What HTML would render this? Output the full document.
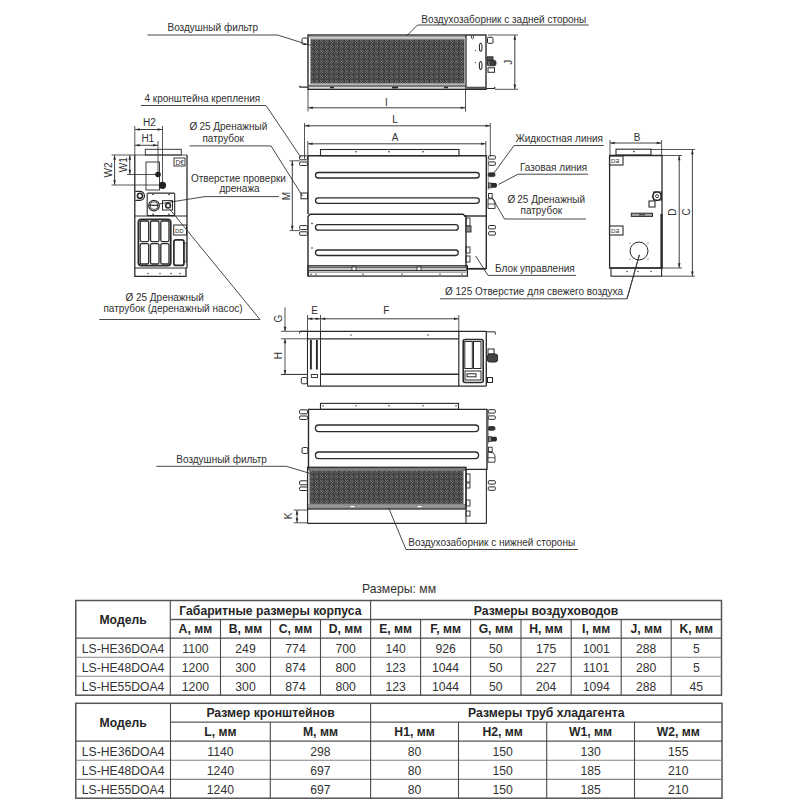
<!DOCTYPE html>
<html><head><meta charset="utf-8"><style>
html,body{margin:0;padding:0;background:#fff;}
svg{display:block;font-family:"Liberation Sans",sans-serif;}
</style></head><body>
<svg width="800" height="800" viewBox="0 0 800 800" font-size="12.2">
<defs>
<pattern id="mesh" width="5" height="5" patternUnits="userSpaceOnUse">
<rect width="5" height="5" fill="#444"/>
<rect x="0" y="0" width="1" height="1" fill="#777"/>
<rect x="2" y="0" width="1" height="1" fill="#666"/>
<rect x="4" y="0" width="1" height="1" fill="#333"/>
<rect x="1" y="1" width="1" height="1" fill="#7a7a7a"/>
<rect x="3" y="1" width="1" height="1" fill="#5a5a5a"/>
<rect x="0" y="2" width="1" height="1" fill="#666"/>
<rect x="1" y="2" width="1" height="1" fill="#333"/>
<rect x="2" y="2" width="1" height="1" fill="#777"/>
<rect x="4" y="3" width="1" height="1" fill="#5a5a5a"/>
<rect x="1" y="3" width="1" height="1" fill="#666"/>
<rect x="3" y="3" width="1" height="1" fill="#333"/>
</pattern>
</defs>
<rect width="800" height="800" fill="#fff"/>
<text x="167.5" y="31" font-size="10" text-anchor="start" fill="#303030">Воздушный фильтр</text>
<polyline points="147.5,35 277.5,35 314,46.5" stroke="#333" stroke-width="0.9" fill="none"/>
<text x="421.3" y="22.5" font-size="10" text-anchor="start" fill="#303030">Воздухозаборник с задней стороны</text>
<polyline points="588.8,25 417.5,25 406,36.5" stroke="#333" stroke-width="0.9" fill="none"/>
<rect x="308.5" y="84.7" width="157.5" height="2.6" rx="0" stroke="#2a2a2a" stroke-width="0" fill="#7a7a7a"/>
<rect x="311" y="39.3" width="153" height="44.2" rx="0" stroke="#2a2a2a" stroke-width="0" fill="url(#mesh)"/>
<rect x="310.5" y="38.8" width="154" height="45.2" rx="0" stroke="#888" stroke-width="0.8" fill="none"/>
<line x1="309" y1="36.8" x2="466" y2="36.8" stroke="#9a9a9a" stroke-width="1.6"/>
<rect x="308" y="35" width="178" height="54.3" rx="0" stroke="#2a2a2a" stroke-width="1.4" fill="none"/>
<line x1="466" y1="35" x2="466" y2="89.3" stroke="#2a2a2a" stroke-width="1.3"/>
<line x1="330" y1="87.5" x2="334" y2="87.5" stroke="#2a2a2a" stroke-width="1.5"/>
<line x1="392" y1="87.5" x2="398" y2="87.5" stroke="#2a2a2a" stroke-width="1.8"/>
<line x1="444" y1="87.5" x2="448" y2="87.5" stroke="#2a2a2a" stroke-width="1.5"/>
<path d="M471.4,35.5 L471.4,38 Q472.4,39.6 473.4,38 L473.4,35.5" stroke="#2a2a2a" stroke-width="0.9" fill="none"/>
<ellipse cx="480.7" cy="47.2" rx="1.3" ry="4" stroke="#2a2a2a" stroke-width="1.1" fill="none"/>
<ellipse cx="480.7" cy="65.5" rx="1.3" ry="4" stroke="#2a2a2a" stroke-width="1.1" fill="none"/>
<circle cx="475.4" cy="50.3" r="0.6" fill="#2a2a2a"/>
<circle cx="475.4" cy="62.5" r="0.6" fill="#2a2a2a"/>
<line x1="466.5" y1="87.8" x2="486" y2="87.8" stroke="#555" stroke-width="2.2"/>
<rect x="302" y="38" width="6" height="6.5" rx="1.5" stroke="#2a2a2a" stroke-width="1.0" fill="none"/>
<polyline points="308,87.2 300,87.2 299.5,85.8" stroke="#2a2a2a" stroke-width="1.2" fill="none"/>
<rect x="487.5" y="37.3" width="5.5" height="6" rx="1" stroke="#2a2a2a" stroke-width="1.0" fill="none"/>
<rect x="487" y="56.8" width="6" height="3.5" rx="0" stroke="#2a2a2a" stroke-width="0.9" fill="#555"/>
<rect x="487" y="60.3" width="9" height="5.5" rx="2" stroke="#2a2a2a" stroke-width="0.9" fill="#3a3a3a"/>
<line x1="489" y1="61" x2="489" y2="65.5" stroke="#ccc" stroke-width="0.6"/>
<rect x="488" y="67.8" width="6.5" height="4.5" rx="0" stroke="#2a2a2a" stroke-width="1.0" fill="none"/>
<polyline points="486,88.5 494.5,88.5 495,87" stroke="#2a2a2a" stroke-width="1.2" fill="none"/>
<line x1="488" y1="35" x2="518" y2="35" stroke="#2a2a2a" stroke-width="0.8"/>
<line x1="495" y1="89.3" x2="518" y2="89.3" stroke="#2a2a2a" stroke-width="0.8"/>
<line x1="514.8" y1="35.3" x2="514.8" y2="89" stroke="#2a2a2a" stroke-width="0.9"/>
<polygon points="514.8,35.3 516.10,39.80 513.50,39.80" fill="#2a2a2a"/>
<polygon points="514.8,89 513.50,84.50 516.10,84.50" fill="#2a2a2a"/>
<text x="512" y="62.3" font-size="10" text-anchor="middle" fill="#303030" transform="rotate(-90 512 62.3)">J</text>
<line x1="308" y1="89" x2="308" y2="111.5" stroke="#2a2a2a" stroke-width="0.8"/>
<line x1="465.5" y1="89" x2="465.5" y2="111.5" stroke="#2a2a2a" stroke-width="0.8"/>
<line x1="308.3" y1="107.8" x2="465.2" y2="107.8" stroke="#2a2a2a" stroke-width="0.9"/>
<polygon points="308.3,107.8 312.80,106.50 312.80,109.10" fill="#2a2a2a"/>
<polygon points="465.2,107.8 460.70,109.10 460.70,106.50" fill="#2a2a2a"/>
<text x="386.5" y="105.6" font-size="10" text-anchor="middle" fill="#303030">I</text>
<text x="144.5" y="101.6" font-size="10" text-anchor="start" fill="#303030">4 кронштейна крепления</text>
<polyline points="141,105.5 266,105.5 301,157.5" stroke="#333" stroke-width="0.9" fill="none"/>
<text x="189.6" y="130.1" font-size="10" text-anchor="start" fill="#303030">Ø<tspan dx="2">25 Дренажный</tspan></text>
<text x="202.4" y="142.3" font-size="10" text-anchor="start" fill="#303030">патрубок</text>
<polyline points="189.6,145.9 271,145.9 302.5,196" stroke="#333" stroke-width="0.9" fill="none"/>
<text x="190.9" y="182.1" font-size="10" text-anchor="start" fill="#303030">Отверстие проверки</text>
<text x="219.4" y="191.6" font-size="10" text-anchor="start" fill="#303030">дренажа</text>
<polyline points="279,196.6 205,196.6 159.5,203.8" stroke="#333" stroke-width="0.9" fill="none"/>
<line x1="304.5" y1="123" x2="304.5" y2="159" stroke="#2a2a2a" stroke-width="0.8"/>
<line x1="490.3" y1="123" x2="490.3" y2="156.5" stroke="#2a2a2a" stroke-width="0.8"/>
<line x1="304.8" y1="125.8" x2="490" y2="125.8" stroke="#2a2a2a" stroke-width="0.9"/>
<polygon points="304.8,125.8 309.30,124.50 309.30,127.10" fill="#2a2a2a"/>
<polygon points="490,125.8 485.50,127.10 485.50,124.50" fill="#2a2a2a"/>
<text x="395" y="122.5" font-size="10" text-anchor="middle" fill="#303030">L</text>
<line x1="307.8" y1="141" x2="307.8" y2="155" stroke="#2a2a2a" stroke-width="0.8"/>
<line x1="485.8" y1="141" x2="485.8" y2="155" stroke="#2a2a2a" stroke-width="0.8"/>
<line x1="308.1" y1="143.8" x2="485.5" y2="143.8" stroke="#2a2a2a" stroke-width="0.9"/>
<polygon points="308.1,143.8 312.60,142.50 312.60,145.10" fill="#2a2a2a"/>
<polygon points="485.5,143.8 481.00,145.10 481.00,142.50" fill="#2a2a2a"/>
<text x="395" y="140.8" font-size="10" text-anchor="middle" fill="#303030">A</text>
<line x1="289.5" y1="160.8" x2="300" y2="160.8" stroke="#2a2a2a" stroke-width="0.8"/>
<line x1="289.5" y1="230.6" x2="300" y2="230.6" stroke="#2a2a2a" stroke-width="0.8"/>
<line x1="292.3" y1="161.1" x2="292.3" y2="230.3" stroke="#2a2a2a" stroke-width="0.9"/>
<polygon points="292.3,161.1 293.60,165.60 291.00,165.60" fill="#2a2a2a"/>
<polygon points="292.3,230.3 291.00,225.80 293.60,225.80" fill="#2a2a2a"/>
<text x="290" y="196" font-size="10" text-anchor="middle" fill="#303030" transform="rotate(-90 290 196)">M</text>
<rect x="320.5" y="149.5" width="138.5" height="6.2" rx="0" stroke="#2a2a2a" stroke-width="1.1" fill="none"/>
<circle cx="356" cy="151.8" r="0.8" fill="#2a2a2a"/>
<circle cx="389" cy="151.8" r="0.8" fill="#2a2a2a"/>
<circle cx="423" cy="151.8" r="0.8" fill="#2a2a2a"/>
<polyline points="308,214.3 308,155.7 486.3,155.7 486.3,269" stroke="#2a2a2a" stroke-width="1.4" fill="none"/>
<line x1="464" y1="216" x2="486.3" y2="216" stroke="#2a2a2a" stroke-width="1.4"/>
<rect x="315.5" y="172.5" width="163.8" height="5.5" rx="2.75" stroke="#2a2a2a" stroke-width="1.3" fill="none"/>
<rect x="315.5" y="197.8" width="163.8" height="5.5" rx="2.75" stroke="#2a2a2a" stroke-width="1.3" fill="none"/>
<path d="M308,276 L308,216.5 L310,214.3 L463,214.3 L465,216 L466,216 L466,268" stroke="#2a2a2a" stroke-width="1.4" fill="none"/>
<rect x="315.5" y="224.7" width="142.8" height="5.5" rx="2.75" stroke="#2a2a2a" stroke-width="1.3" fill="none"/>
<rect x="315.5" y="250" width="142.8" height="5.5" rx="2.75" stroke="#2a2a2a" stroke-width="1.3" fill="none"/>
<circle cx="312" cy="223.5" r="0.8" fill="#2a2a2a"/>
<circle cx="312" cy="248" r="0.8" fill="#2a2a2a"/>
<rect x="309" y="267.3" width="157.5" height="3.3" rx="0" stroke="#2a2a2a" stroke-width="0" fill="#c8c8c8"/>
<line x1="309" y1="267.3" x2="466.5" y2="267.3" stroke="#444" stroke-width="1.0"/>
<line x1="309" y1="270.6" x2="466.5" y2="270.6" stroke="#333" stroke-width="1.3"/>
<line x1="309" y1="272.4" x2="466.5" y2="272.4" stroke="#777" stroke-width="0.7"/>
<rect x="308" y="265.8" width="159.4" height="10.3" rx="0" stroke="#2a2a2a" stroke-width="1.3" fill="none"/>
<rect x="352" y="267" width="4" height="3.5" rx="0" stroke="#2a2a2a" stroke-width="0.9" fill="#fff"/>
<rect x="417" y="267" width="4" height="3.5" rx="0" stroke="#2a2a2a" stroke-width="0.9" fill="#fff"/>
<circle cx="311" cy="274.3" r="0.7" fill="#2a2a2a"/>
<circle cx="316" cy="274.3" r="0.7" fill="#2a2a2a"/>
<circle cx="363" cy="274.3" r="0.7" fill="#2a2a2a"/>
<circle cx="402" cy="274.3" r="0.7" fill="#2a2a2a"/>
<circle cx="440" cy="274.3" r="0.7" fill="#2a2a2a"/>
<circle cx="462" cy="274.3" r="0.7" fill="#2a2a2a"/>
<rect x="466" y="218" width="4" height="8" rx="0" stroke="#2a2a2a" stroke-width="0.9" fill="none"/>
<rect x="466" y="226" width="5" height="6" rx="0" stroke="#2a2a2a" stroke-width="0.9" fill="#888"/>
<rect x="466" y="247" width="4" height="6" rx="0" stroke="#2a2a2a" stroke-width="0.9" fill="none"/>
<rect x="466" y="256" width="4" height="6" rx="0" stroke="#2a2a2a" stroke-width="0.9" fill="none"/>
<line x1="466" y1="268.8" x2="486.3" y2="268.8" stroke="#2a2a2a" stroke-width="1.8"/>
<rect x="299.6" y="155.8" width="7.8" height="4" rx="1" stroke="#2a2a2a" stroke-width="1.0" fill="none"/>
<rect x="299.6" y="162.0" width="7.8" height="3.5" rx="1" stroke="#2a2a2a" stroke-width="1.0" fill="none"/>
<rect x="488.6" y="155.7" width="6.8" height="3.4" rx="0.8" stroke="#2a2a2a" stroke-width="1.0" fill="none"/>
<rect x="488.6" y="161.9" width="6.8" height="3.4" rx="0.8" stroke="#2a2a2a" stroke-width="1.0" fill="none"/>
<rect x="299.6" y="225.60000000000002" width="7.8" height="4" rx="1" stroke="#2a2a2a" stroke-width="1.0" fill="none"/>
<rect x="299.6" y="231.8" width="7.8" height="3.5" rx="1" stroke="#2a2a2a" stroke-width="1.0" fill="none"/>
<rect x="488.6" y="225.5" width="6.8" height="3.4" rx="0.8" stroke="#2a2a2a" stroke-width="1.0" fill="none"/>
<rect x="488.6" y="231.70000000000002" width="6.8" height="3.4" rx="0.8" stroke="#2a2a2a" stroke-width="1.0" fill="none"/>
<rect x="301" y="193" width="6.5" height="5.8" rx="0" stroke="#2a2a2a" stroke-width="1.0" fill="none"/>
<line x1="488.2" y1="156" x2="488.2" y2="190" stroke="#555" stroke-width="0.7"/>
<rect x="488.2" y="172.8" width="6.8" height="3.8" rx="1.5" stroke="#2a2a2a" stroke-width="0.8" fill="#333"/>
<rect x="488.5" y="183" width="3" height="4.8" rx="0" stroke="#2a2a2a" stroke-width="0.8" fill="#888"/>
<path d="M491.5,183 L496,183 Q498.2,185.4 496,187.8 L491.5,187.8 Z" fill="#2a2a2a"/>
<rect x="488.5" y="193.5" width="3.7" height="4.5" rx="0" stroke="#2a2a2a" stroke-width="0.9" fill="none"/>
<path d="M488.8,198.8 L493,198.8 L495,202 L495,208.5 L488,208.5 L488,199 Z" stroke="#2a2a2a" stroke-width="0.9" fill="none"/>
<line x1="488" y1="204" x2="495" y2="204" stroke="#2a2a2a" stroke-width="0.8"/>
<text x="515.5" y="142" font-size="10" text-anchor="start" fill="#303030">Жидкостная линия</text>
<polyline points="603.8,145.5 514,145.5 494,173" stroke="#333" stroke-width="0.9" fill="none"/>
<text x="520" y="171.3" font-size="10" text-anchor="start" fill="#303030">Газовая линия</text>
<polyline points="588,174.2 518,174.2 498.5,184.5" stroke="#333" stroke-width="0.9" fill="none"/>
<text x="507.5" y="203.3" font-size="10" text-anchor="start" fill="#303030">Ø<tspan dx="2">25 Дренажный</tspan></text>
<text x="520.5" y="213.5" font-size="10" text-anchor="start" fill="#303030">патрубок</text>
<polyline points="586,219 504.5,219 492,197.5" stroke="#333" stroke-width="0.9" fill="none"/>
<text x="495" y="271.8" font-size="10" text-anchor="start" fill="#303030">Блок управления</text>
<polyline points="576,275.4 488,275.4 475.7,256" stroke="#333" stroke-width="0.9" fill="none"/>
<text x="445" y="294.6" font-size="10" text-anchor="start" fill="#303030">Ø 125 Отверстие для свежего воздуха</text>
<polyline points="440,298.8 627,298.8 639.4,254.8" stroke="#333" stroke-width="0.9" fill="none"/>
<line x1="134.8" y1="126" x2="134.8" y2="155" stroke="#2a2a2a" stroke-width="0.8"/>
<line x1="162.5" y1="126" x2="162.5" y2="185" stroke="#2a2a2a" stroke-width="0.8"/>
<line x1="158" y1="141" x2="158" y2="175" stroke="#2a2a2a" stroke-width="0.8"/>
<line x1="135.1" y1="129.5" x2="162.2" y2="129.5" stroke="#2a2a2a" stroke-width="0.9"/>
<polygon points="135.1,129.5 139.60,128.20 139.60,130.80" fill="#2a2a2a"/>
<polygon points="162.2,129.5 157.70,130.80 157.70,128.20" fill="#2a2a2a"/>
<line x1="135.1" y1="145.3" x2="157.7" y2="145.3" stroke="#2a2a2a" stroke-width="0.9"/>
<polygon points="135.1,145.3 139.60,144.00 139.60,146.60" fill="#2a2a2a"/>
<polygon points="157.7,145.3 153.20,146.60 153.20,144.00" fill="#2a2a2a"/>
<text x="149.5" y="126" font-size="10" text-anchor="middle" fill="#303030">H2</text>
<text x="147.8" y="141.6" font-size="10" text-anchor="middle" fill="#303030">H1</text>
<line x1="111.5" y1="155" x2="187" y2="155" stroke="#2a2a2a" stroke-width="0.8"/>
<line x1="111.5" y1="185" x2="162.5" y2="185" stroke="#2a2a2a" stroke-width="0.8"/>
<line x1="127" y1="174.5" x2="158" y2="174.5" stroke="#2a2a2a" stroke-width="0.8"/>
<line x1="114.6" y1="155.3" x2="114.6" y2="184.7" stroke="#2a2a2a" stroke-width="0.9"/>
<polygon points="114.6,155.3 115.90,159.80 113.30,159.80" fill="#2a2a2a"/>
<polygon points="114.6,184.7 113.30,180.20 115.90,180.20" fill="#2a2a2a"/>
<line x1="129.8" y1="155.3" x2="129.8" y2="174.2" stroke="#2a2a2a" stroke-width="0.9"/>
<polygon points="129.8,155.3 131.10,159.80 128.50,159.80" fill="#2a2a2a"/>
<polygon points="129.8,174.2 128.50,169.70 131.10,169.70" fill="#2a2a2a"/>
<text x="111.5" y="170" font-size="10" text-anchor="middle" fill="#303030" transform="rotate(-90 111.5 170)">W2</text>
<text x="127.2" y="164.7" font-size="10" text-anchor="middle" fill="#303030" transform="rotate(-90 127.2 164.7)">W1</text>
<rect x="145.3" y="149.3" width="36" height="5.7" rx="0" stroke="#2a2a2a" stroke-width="0.9" fill="none"/>
<polyline points="134.8,155 134.8,276.3 186,276.3 186,268" stroke="#2a2a2a" stroke-width="1.3" fill="none"/>
<line x1="187" y1="155" x2="187" y2="268" stroke="#2a2a2a" stroke-width="1.3"/>
<line x1="134.8" y1="268" x2="187" y2="268" stroke="#2a2a2a" stroke-width="1.0"/>
<rect x="146" y="162" width="13.5" height="28" rx="0" stroke="#2a2a2a" stroke-width="0.9" fill="none"/>
<circle cx="158" cy="174.5" r="2.8" stroke="#2a2a2a" stroke-width="0" fill="#222"/>
<circle cx="162.5" cy="185.3" r="3.6" stroke="#2a2a2a" stroke-width="0" fill="#222"/>
<rect x="174" y="158" width="11" height="8" rx="0" stroke="#2a2a2a" stroke-width="0.9" fill="none"/>
<text x="175.5" y="164.8" font-size="6.5" fill="#333">D€</text>
<path d="M135.3,191.3 L140,191.3 A4.5,4.5 0 0 1 140,200.3 L135.3,200.3" stroke="#2a2a2a" stroke-width="1.2" fill="none"/>
<circle cx="140" cy="195.8" r="2.6" stroke="#2a2a2a" stroke-width="1.6" fill="none"/>
<rect x="147.2" y="193.1" width="27.5" height="22.5" rx="1" stroke="#2a2a2a" stroke-width="1.1" fill="none"/>
<circle cx="154" cy="205.6" r="5.3" stroke="#2a2a2a" stroke-width="1.3" fill="none"/>
<circle cx="154" cy="205.6" r="3.9" stroke="#2a2a2a" stroke-width="0.8" fill="none"/>
<line x1="149.5" y1="205.3" x2="158.5" y2="205.3" stroke="#2a2a2a" stroke-width="1.2"/>
<rect x="162.5" y="200.6" width="10" height="9.4" rx="0" stroke="#2a2a2a" stroke-width="1.0" fill="none"/>
<circle cx="168.1" cy="205.6" r="2.4" stroke="#2a2a2a" stroke-width="1.6" fill="none"/>
<circle cx="153" cy="194.5" r="0.8" fill="#2a2a2a"/>
<circle cx="169" cy="194.5" r="0.8" fill="#2a2a2a"/>
<circle cx="153" cy="214.2" r="0.8" fill="#2a2a2a"/>
<circle cx="169" cy="214.2" r="0.8" fill="#2a2a2a"/>
<line x1="134.8" y1="216" x2="187" y2="216" stroke="#2a2a2a" stroke-width="1.1"/>
<rect x="138.4" y="219.3" width="32.3" height="46.3" rx="3" stroke="#2a2a2a" stroke-width="1.8" fill="none"/>
<rect x="140.2" y="221.0" width="8.500000000000018" height="20.599999999999984" rx="1.5" stroke="#2a2a2a" stroke-width="1.3" fill="none"/>
<rect x="140.2" y="243.6" width="8.500000000000018" height="20.400000000000023" rx="1.5" stroke="#2a2a2a" stroke-width="1.3" fill="none"/>
<rect x="150.5" y="221.0" width="8.49999999999999" height="20.599999999999984" rx="1.5" stroke="#2a2a2a" stroke-width="1.3" fill="none"/>
<rect x="150.5" y="243.6" width="8.49999999999999" height="20.400000000000023" rx="1.5" stroke="#2a2a2a" stroke-width="1.3" fill="none"/>
<rect x="160.79999999999998" y="221.0" width="8.200000000000006" height="20.599999999999984" rx="1.5" stroke="#2a2a2a" stroke-width="1.3" fill="none"/>
<rect x="160.79999999999998" y="243.6" width="8.200000000000006" height="20.400000000000023" rx="1.5" stroke="#2a2a2a" stroke-width="1.3" fill="none"/>
<rect x="173.7" y="225" width="12.8" height="10" rx="0" stroke="#2a2a2a" stroke-width="1.0" fill="none"/>
<text x="175" y="232.6" font-size="6" fill="#333">DD</text>
<rect x="173.9" y="239.8" width="10" height="25.6" rx="2" stroke="#2a2a2a" stroke-width="1.7" fill="none"/>
<rect x="183.9" y="243" width="2.3" height="19" rx="0" stroke="#2a2a2a" stroke-width="0.8" fill="none"/>
<circle cx="148" cy="273.5" r="0.7" fill="#2a2a2a"/>
<circle cx="160" cy="273.5" r="0.7" fill="#2a2a2a"/>
<circle cx="171" cy="273.5" r="0.7" fill="#2a2a2a"/>
<circle cx="180" cy="273.5" r="0.7" fill="#2a2a2a"/>
<text x="125.4" y="300.8" font-size="10" text-anchor="start" fill="#303030">Ø 25 Дренажный</text>
<text x="103.4" y="312.3" font-size="10" text-anchor="start" fill="#303030">патрубок (деренажный насос)</text>
<polyline points="99.3,319.5 260,319.5 170,209.5" stroke="#333" stroke-width="0.9" fill="none"/>
<line x1="610.2" y1="143" x2="661.2" y2="143" stroke="#2a2a2a" stroke-width="0.9"/>
<polygon points="610.2,143 614.70,141.70 614.70,144.30" fill="#2a2a2a"/>
<polygon points="661.2,143 656.70,144.30 656.70,141.70" fill="#2a2a2a"/>
<text x="637" y="141.3" font-size="10" text-anchor="middle" fill="#303030">B</text>
<line x1="610" y1="140" x2="610" y2="155" stroke="#2a2a2a" stroke-width="0.8"/>
<line x1="661.6" y1="140" x2="661.6" y2="155" stroke="#2a2a2a" stroke-width="0.8"/>
<rect x="616" y="149.2" width="35" height="5.8" rx="0" stroke="#2a2a2a" stroke-width="1.1" fill="none"/>
<circle cx="634" cy="151.6" r="0.8" fill="#2a2a2a"/>
<line x1="651" y1="149.5" x2="695" y2="149.5" stroke="#2a2a2a" stroke-width="0.8"/>
<line x1="662" y1="155.5" x2="682" y2="155.5" stroke="#2a2a2a" stroke-width="0.8"/>
<line x1="662" y1="268" x2="682" y2="268" stroke="#2a2a2a" stroke-width="0.8"/>
<line x1="662" y1="276.2" x2="695" y2="276.2" stroke="#2a2a2a" stroke-width="0.8"/>
<line x1="679.2" y1="155.8" x2="679.2" y2="267.7" stroke="#2a2a2a" stroke-width="0.9"/>
<polygon points="679.2,155.8 680.50,160.30 677.90,160.30" fill="#2a2a2a"/>
<polygon points="679.2,267.7 677.90,263.20 680.50,263.20" fill="#2a2a2a"/>
<line x1="692.4" y1="149.8" x2="692.4" y2="275.9" stroke="#2a2a2a" stroke-width="0.9"/>
<polygon points="692.4,149.8 693.70,154.30 691.10,154.30" fill="#2a2a2a"/>
<polygon points="692.4,275.9 691.10,271.40 693.70,271.40" fill="#2a2a2a"/>
<text x="676.3" y="212" font-size="10" text-anchor="middle" fill="#303030" transform="rotate(-90 676.3 212)">D</text>
<text x="690.2" y="212" font-size="10" text-anchor="middle" fill="#303030" transform="rotate(-90 690.2 212)">C</text>
<polyline points="609.6,155.5 609.6,268 662,268 662,155.5 609.6,155.5" stroke="#2a2a2a" stroke-width="1.3" fill="none"/>
<line x1="661.5" y1="214" x2="661.5" y2="268" stroke="#2a2a2a" stroke-width="2.2"/>
<rect x="653.5" y="192" width="8" height="8" rx="0" stroke="#2a2a2a" stroke-width="1.0" fill="none"/>
<rect x="611" y="268" width="50.6" height="8.2" rx="0" stroke="#2a2a2a" stroke-width="1.1" fill="none"/>
<circle cx="627" cy="271.5" r="0.7" fill="#2a2a2a"/>
<circle cx="638" cy="271.5" r="0.7" fill="#2a2a2a"/>
<circle cx="651" cy="271.5" r="0.7" fill="#2a2a2a"/>
<rect x="609.5" y="156" width="13.5" height="9" rx="0" stroke="#2a2a2a" stroke-width="1.1" fill="none"/>
<text x="611" y="163.3" font-size="6" fill="#333">DƎ</text>
<rect x="609.5" y="226" width="13.5" height="9" rx="0" stroke="#2a2a2a" stroke-width="1.1" fill="none"/>
<text x="611" y="233.3" font-size="6" fill="#333">DƎ</text>
<circle cx="657" cy="196.2" r="4.2" stroke="#2a2a2a" stroke-width="1.7" fill="#fff"/>
<circle cx="657" cy="196.2" r="1.5" stroke="#2a2a2a" stroke-width="0.9" fill="none"/>
<rect x="649" y="201" width="6" height="6" rx="0" stroke="#2a2a2a" stroke-width="1.1" fill="none"/>
<rect x="631.3" y="213.2" width="21.2" height="3.2" rx="0" stroke="#2a2a2a" stroke-width="1.0" fill="#aaa"/>
<line x1="639" y1="214.8" x2="645" y2="214.8" stroke="#2a2a2a" stroke-width="1.0"/>
<circle cx="639" cy="251" r="9" stroke="#2a2a2a" stroke-width="1.0" fill="none"/>
<circle cx="630" cy="243" r="0.6" fill="#2a2a2a"/>
<circle cx="648" cy="243" r="0.6" fill="#2a2a2a"/>
<circle cx="630" cy="259" r="0.6" fill="#2a2a2a"/>
<circle cx="648" cy="259" r="0.6" fill="#2a2a2a"/>
<polyline points="639.4,254.8 627,298.8" stroke="#333" stroke-width="0.9" fill="none"/>
<line x1="285" y1="307.5" x2="285" y2="331" stroke="#2a2a2a" stroke-width="0.8"/>
<polygon points="285,331.2 283.70,326.70 286.30,326.70" fill="#2a2a2a"/>
<line x1="285" y1="338.8" x2="285" y2="374.5" stroke="#2a2a2a" stroke-width="0.8"/>
<polygon points="285,338.8 286.30,343.30 283.70,343.30" fill="#2a2a2a"/>
<polygon points="285,374.5 283.70,370.00 286.30,370.00" fill="#2a2a2a"/>
<text x="281.5" y="318.5" font-size="10" text-anchor="middle" fill="#303030" transform="rotate(-90 281.5 318.5)">G</text>
<text x="281.5" y="355.5" font-size="10" text-anchor="middle" fill="#303030" transform="rotate(-90 281.5 355.5)">H</text>
<line x1="281" y1="331.3" x2="307.5" y2="331.3" stroke="#2a2a2a" stroke-width="0.8"/>
<line x1="281" y1="338.8" x2="307.5" y2="338.8" stroke="#2a2a2a" stroke-width="0.8"/>
<line x1="281" y1="374.4" x2="307.5" y2="374.4" stroke="#2a2a2a" stroke-width="1.0"/>
<line x1="307.8" y1="318.8" x2="320.2" y2="318.8" stroke="#2a2a2a" stroke-width="0.9"/>
<polygon points="307.8,318.8 312.30,317.50 312.30,320.10" fill="#2a2a2a"/>
<polygon points="320.2,318.8 315.70,320.10 315.70,317.50" fill="#2a2a2a"/>
<line x1="320.8" y1="318.8" x2="458.5" y2="318.8" stroke="#2a2a2a" stroke-width="0.9"/>
<polygon points="320.8,318.8 325.30,317.50 325.30,320.10" fill="#2a2a2a"/>
<polygon points="458.5,318.8 454.00,320.10 454.00,317.50" fill="#2a2a2a"/>
<text x="314.5" y="313.8" font-size="10" text-anchor="middle" fill="#303030">E</text>
<text x="386.3" y="313.8" font-size="10" text-anchor="middle" fill="#303030">F</text>
<line x1="307.5" y1="315" x2="307.5" y2="331" stroke="#2a2a2a" stroke-width="0.8"/>
<line x1="320.5" y1="315" x2="320.5" y2="331" stroke="#2a2a2a" stroke-width="0.8"/>
<line x1="458.8" y1="315" x2="458.8" y2="331" stroke="#2a2a2a" stroke-width="0.8"/>
<line x1="300" y1="331.3" x2="486.3" y2="331.3" stroke="#2a2a2a" stroke-width="1.3"/>
<line x1="307.5" y1="338.8" x2="458.8" y2="338.8" stroke="#2a2a2a" stroke-width="1.3"/>
<line x1="320.5" y1="374.2" x2="458.8" y2="374.2" stroke="#2a2a2a" stroke-width="1.6"/>
<line x1="307.5" y1="386.1" x2="486.3" y2="386.1" stroke="#2a2a2a" stroke-width="1.4"/>
<line x1="307.5" y1="331.3" x2="307.5" y2="386.1" stroke="#2a2a2a" stroke-width="1.1"/>
<line x1="320.5" y1="331.3" x2="320.5" y2="386.1" stroke="#2a2a2a" stroke-width="1.0"/>
<line x1="458.8" y1="331.3" x2="458.8" y2="386.1" stroke="#2a2a2a" stroke-width="1.2"/>
<line x1="486.3" y1="331.3" x2="486.3" y2="386.1" stroke="#2a2a2a" stroke-width="1.3"/>
<line x1="310.9" y1="340" x2="310.9" y2="369.5" stroke="#2a2a2a" stroke-width="1.9"/>
<line x1="316.9" y1="340" x2="316.9" y2="369.5" stroke="#2a2a2a" stroke-width="1.9"/>
<rect x="311.3" y="374.5" width="6.2" height="3" rx="0" stroke="#2a2a2a" stroke-width="0.9" fill="none"/>
<rect x="301.3" y="377.5" width="6" height="6.3" rx="1.5" stroke="#2a2a2a" stroke-width="1.0" fill="none"/>
<circle cx="351" cy="335" r="0.7" fill="#2a2a2a"/>
<circle cx="428" cy="335" r="0.7" fill="#2a2a2a"/>
<polyline points="300,331.3 299.5,333.5" stroke="#2a2a2a" stroke-width="1.0" fill="none"/>
<rect x="463.2" y="339.5" width="20" height="43" rx="2" stroke="#2a2a2a" stroke-width="1.6" fill="none"/>
<rect x="464.8" y="341.5" width="7.5" height="27" rx="0" stroke="#2a2a2a" stroke-width="1.0" fill="none"/>
<rect x="473.5" y="341.5" width="7.5" height="27" rx="0" stroke="#2a2a2a" stroke-width="1.0" fill="none"/>
<rect x="465" y="371" width="16" height="9" rx="0" stroke="#2a2a2a" stroke-width="1.0" fill="none"/>
<rect x="467" y="373.8" width="9" height="3" rx="0" stroke="#2a2a2a" stroke-width="1.0" fill="none"/>
<polyline points="486.3,331.8 495,331.8 495.5,334.5" stroke="#2a2a2a" stroke-width="1.0" fill="none"/>
<rect x="488" y="349" width="6" height="5" rx="0" stroke="#2a2a2a" stroke-width="1.0" fill="none"/>
<rect x="487.5" y="354" width="10" height="8" rx="2" stroke="#2a2a2a" stroke-width="1.0" fill="#444"/>
<rect x="487.5" y="377.5" width="5" height="5" rx="0" stroke="#2a2a2a" stroke-width="1.0" fill="none"/>
<text x="176.3" y="462.5" font-size="10" text-anchor="start" fill="#303030">Воздушный фильтр</text>
<polyline points="156.3,466.3 286.3,466.3 323.8,477.5" stroke="#333" stroke-width="0.9" fill="none"/>
<text x="408.3" y="545.9" font-size="10" text-anchor="start" fill="#303030">Воздухозаборник с нижней стороны</text>
<polyline points="578,549.5 406,549.5 388.3,507" stroke="#333" stroke-width="0.9" fill="none"/>
<rect x="320.5" y="403.4" width="138" height="6" rx="0" stroke="#2a2a2a" stroke-width="1.1" fill="none"/>
<circle cx="323" cy="405.8" r="0.7" fill="#2a2a2a"/>
<circle cx="356" cy="405.8" r="0.7" fill="#2a2a2a"/>
<circle cx="389" cy="405.8" r="0.7" fill="#2a2a2a"/>
<circle cx="423" cy="405.8" r="0.7" fill="#2a2a2a"/>
<circle cx="456" cy="405.8" r="0.7" fill="#2a2a2a"/>
<polyline points="308.5,469.4 308.5,409.4 487,409.4 487,469.4 466,469.4" stroke="#2a2a2a" stroke-width="1.4" fill="none"/>
<rect x="315.4" y="425" width="163.20000000000005" height="6.600000000000023" rx="3.3000000000000114" stroke="#2a2a2a" stroke-width="1.3" fill="none"/>
<rect x="315.4" y="452" width="163.20000000000005" height="6.600000000000023" rx="3.3000000000000114" stroke="#2a2a2a" stroke-width="1.3" fill="none"/>
<rect x="308.5" y="467.8" width="157.5" height="3.2" rx="0" stroke="#2a2a2a" stroke-width="0" fill="#7c7c7c"/>
<rect x="309.5" y="470.9" width="154" height="33" rx="0" stroke="#2a2a2a" stroke-width="0" fill="url(#mesh)"/>
<rect x="308.5" y="504" width="157.5" height="4.6" rx="0" stroke="#2a2a2a" stroke-width="0" fill="#8a8a8a"/>
<line x1="308.5" y1="506.2" x2="466" y2="506.2" stroke="#bbb" stroke-width="0.6"/>
<rect x="350" y="505.5" width="5" height="2.2" rx="0" stroke="#666" stroke-width="0.5" fill="#fff"/>
<rect x="417" y="505.5" width="5" height="2.2" rx="0" stroke="#666" stroke-width="0.5" fill="#fff"/>
<rect x="307.6" y="467.3" width="158.4" height="41.7" rx="0" stroke="#2a2a2a" stroke-width="1.3" fill="none"/>
<line x1="307.6" y1="509" x2="307.6" y2="523.4" stroke="#2a2a2a" stroke-width="1.1"/>
<line x1="307.6" y1="523.4" x2="486.4" y2="523.4" stroke="#2a2a2a" stroke-width="1.3"/>
<line x1="466" y1="469.4" x2="466" y2="523.4" stroke="#2a2a2a" stroke-width="1.1"/>
<line x1="486.4" y1="469.4" x2="486.4" y2="523.4" stroke="#2a2a2a" stroke-width="1.1"/>
<rect x="299.6" y="409.8" width="7.8" height="4" rx="1" stroke="#2a2a2a" stroke-width="1.0" fill="none"/>
<rect x="299.6" y="416.0" width="7.8" height="3.5" rx="1" stroke="#2a2a2a" stroke-width="1.0" fill="none"/>
<rect x="488.3" y="409.7" width="7" height="3.4" rx="0.8" stroke="#2a2a2a" stroke-width="1.0" fill="none"/>
<rect x="488.3" y="415.9" width="7" height="3.4" rx="0.8" stroke="#2a2a2a" stroke-width="1.0" fill="none"/>
<rect x="299.6" y="480.8" width="7.8" height="4" rx="1" stroke="#2a2a2a" stroke-width="1.0" fill="none"/>
<rect x="299.6" y="487.0" width="7.8" height="3.5" rx="1" stroke="#2a2a2a" stroke-width="1.0" fill="none"/>
<rect x="488.3" y="480.7" width="7" height="3.4" rx="0.8" stroke="#2a2a2a" stroke-width="1.0" fill="none"/>
<rect x="488.3" y="486.9" width="7" height="3.4" rx="0.8" stroke="#2a2a2a" stroke-width="1.0" fill="none"/>
<rect x="302" y="447.5" width="6" height="6" rx="1.5" stroke="#2a2a2a" stroke-width="1.0" fill="none"/>
<line x1="488.2" y1="409.7" x2="488.2" y2="443.7" stroke="#555" stroke-width="0.7"/>
<rect x="488.2" y="426.5" width="6.8" height="3.8" rx="1.5" stroke="#2a2a2a" stroke-width="0.8" fill="#333"/>
<rect x="488.5" y="436.7" width="3" height="4.8" rx="0" stroke="#2a2a2a" stroke-width="0.8" fill="#888"/>
<path d="M491.5,436.7 L496,436.7 Q498.2,439.1 496,441.5 L491.5,441.5 Z" fill="#2a2a2a"/>
<rect x="488.5" y="447.2" width="3.7" height="4.5" rx="0" stroke="#2a2a2a" stroke-width="0.9" fill="none"/>
<path d="M488.8,452.5 L493,452.5 L495,455.7 L495,462.2 L488,462.2 L488,452.7 Z" stroke="#2a2a2a" stroke-width="0.9" fill="none"/>
<line x1="488" y1="457.7" x2="495" y2="457.7" stroke="#2a2a2a" stroke-width="0.8"/>
<rect x="466" y="474" width="4" height="8" rx="0" stroke="#2a2a2a" stroke-width="0.9" fill="none"/>
<rect x="466" y="483" width="4" height="5" rx="0" stroke="#2a2a2a" stroke-width="0.9" fill="none"/>
<rect x="466" y="500" width="4" height="6" rx="0" stroke="#2a2a2a" stroke-width="0.9" fill="none"/>
<rect x="466" y="511" width="4" height="5" rx="0" stroke="#2a2a2a" stroke-width="0.9" fill="none"/>
<line x1="293.7" y1="510" x2="308" y2="510" stroke="#2a2a2a" stroke-width="0.8"/>
<line x1="293.7" y1="522.8" x2="308" y2="522.8" stroke="#2a2a2a" stroke-width="0.8"/>
<line x1="297" y1="510.3" x2="297" y2="522.5" stroke="#2a2a2a" stroke-width="0.9"/>
<polygon points="297,510.3 298.30,514.80 295.70,514.80" fill="#2a2a2a"/>
<polygon points="297,522.5 295.70,518.00 298.30,518.00" fill="#2a2a2a"/>
<text x="291.5" y="516" font-size="10" text-anchor="middle" fill="#303030" transform="rotate(-90 291.5 516)">K</text>
<text x="399" y="593.2" text-anchor="middle" fill="#333">Размеры: мм</text>
<rect x="75.8" y="600.5" width="645.7" height="94.70000000000005" fill="none" stroke="#555" stroke-width="1.5"/>
<line x1="170.3" y1="619.5" x2="721.5" y2="619.5" stroke="#5a5a5a" stroke-width="1.3"/>
<line x1="75.8" y1="657.2" x2="721.5" y2="657.2" stroke="#858585" stroke-width="1.1"/>
<line x1="75.8" y1="676.2" x2="721.5" y2="676.2" stroke="#858585" stroke-width="1.1"/>
<line x1="75.8" y1="638.2" x2="721.5" y2="638.2" stroke="#555" stroke-width="1.2"/>
<line x1="170.3" y1="600.5" x2="170.3" y2="695.2" stroke="#4a4a4a" stroke-width="1.1"/>
<line x1="220.5" y1="619.5" x2="220.5" y2="695.2" stroke="#4a4a4a" stroke-width="1.1"/>
<line x1="270.5" y1="619.5" x2="270.5" y2="695.2" stroke="#4a4a4a" stroke-width="1.1"/>
<line x1="320.5" y1="619.5" x2="320.5" y2="695.2" stroke="#4a4a4a" stroke-width="1.1"/>
<line x1="370.6" y1="600.5" x2="370.6" y2="695.2" stroke="#4a4a4a" stroke-width="1.1"/>
<line x1="420.6" y1="619.5" x2="420.6" y2="695.2" stroke="#4a4a4a" stroke-width="1.1"/>
<line x1="470.6" y1="619.5" x2="470.6" y2="695.2" stroke="#4a4a4a" stroke-width="1.1"/>
<line x1="521" y1="619.5" x2="521" y2="695.2" stroke="#4a4a4a" stroke-width="1.1"/>
<line x1="571.2" y1="619.5" x2="571.2" y2="695.2" stroke="#4a4a4a" stroke-width="1.1"/>
<line x1="621.2" y1="619.5" x2="621.2" y2="695.2" stroke="#4a4a4a" stroke-width="1.1"/>
<line x1="671.2" y1="619.5" x2="671.2" y2="695.2" stroke="#4a4a4a" stroke-width="1.1"/>
<text x="123.05000000000001" y="624.2" text-anchor="middle" font-weight="bold" fill="#262626">Модель</text>
<text x="270.45000000000005" y="614.5" text-anchor="middle" font-weight="bold" fill="#262626">Габаритные размеры корпуса</text>
<text x="546.05" y="614.5" text-anchor="middle" font-weight="bold" fill="#262626">Размеры воздуховодов</text>
<text x="195.4" y="633.0" text-anchor="middle" font-weight="bold" fill="#262626">A, мм</text>
<text x="245.5" y="633.0" text-anchor="middle" font-weight="bold" fill="#262626">B, мм</text>
<text x="295.5" y="633.0" text-anchor="middle" font-weight="bold" fill="#262626">C, мм</text>
<text x="345.55" y="633.0" text-anchor="middle" font-weight="bold" fill="#262626">D, мм</text>
<text x="395.6" y="633.0" text-anchor="middle" font-weight="bold" fill="#262626">E, мм</text>
<text x="445.6" y="633.0" text-anchor="middle" font-weight="bold" fill="#262626">F, мм</text>
<text x="495.8" y="633.0" text-anchor="middle" font-weight="bold" fill="#262626">G, мм</text>
<text x="546.1" y="633.0" text-anchor="middle" font-weight="bold" fill="#262626">H, мм</text>
<text x="596.2" y="633.0" text-anchor="middle" font-weight="bold" fill="#262626">I, мм</text>
<text x="646.2" y="633.0" text-anchor="middle" font-weight="bold" fill="#262626">J, мм</text>
<text x="696.35" y="633.0" text-anchor="middle" font-weight="bold" fill="#262626">K, мм</text>
<text x="123.05000000000001" y="652.5" text-anchor="middle" fill="#333">LS-HE36DOA4</text>
<text x="195.4" y="652.5" text-anchor="middle" fill="#333">1100</text>
<text x="245.5" y="652.5" text-anchor="middle" fill="#333">249</text>
<text x="295.5" y="652.5" text-anchor="middle" fill="#333">774</text>
<text x="345.55" y="652.5" text-anchor="middle" fill="#333">700</text>
<text x="395.6" y="652.5" text-anchor="middle" fill="#333">140</text>
<text x="445.6" y="652.5" text-anchor="middle" fill="#333">926</text>
<text x="495.8" y="652.5" text-anchor="middle" fill="#333">50</text>
<text x="546.1" y="652.5" text-anchor="middle" fill="#333">175</text>
<text x="596.2" y="652.5" text-anchor="middle" fill="#333">1001</text>
<text x="646.2" y="652.5" text-anchor="middle" fill="#333">288</text>
<text x="696.35" y="652.5" text-anchor="middle" fill="#333">5</text>
<text x="123.05000000000001" y="671.5" text-anchor="middle" fill="#333">LS-HE48DOA4</text>
<text x="195.4" y="671.5" text-anchor="middle" fill="#333">1200</text>
<text x="245.5" y="671.5" text-anchor="middle" fill="#333">300</text>
<text x="295.5" y="671.5" text-anchor="middle" fill="#333">874</text>
<text x="345.55" y="671.5" text-anchor="middle" fill="#333">800</text>
<text x="395.6" y="671.5" text-anchor="middle" fill="#333">123</text>
<text x="445.6" y="671.5" text-anchor="middle" fill="#333">1044</text>
<text x="495.8" y="671.5" text-anchor="middle" fill="#333">50</text>
<text x="546.1" y="671.5" text-anchor="middle" fill="#333">227</text>
<text x="596.2" y="671.5" text-anchor="middle" fill="#333">1101</text>
<text x="646.2" y="671.5" text-anchor="middle" fill="#333">280</text>
<text x="696.35" y="671.5" text-anchor="middle" fill="#333">5</text>
<text x="123.05000000000001" y="690.5" text-anchor="middle" fill="#333">LS-HE55DOA4</text>
<text x="195.4" y="690.5" text-anchor="middle" fill="#333">1200</text>
<text x="245.5" y="690.5" text-anchor="middle" fill="#333">300</text>
<text x="295.5" y="690.5" text-anchor="middle" fill="#333">874</text>
<text x="345.55" y="690.5" text-anchor="middle" fill="#333">800</text>
<text x="395.6" y="690.5" text-anchor="middle" fill="#333">123</text>
<text x="445.6" y="690.5" text-anchor="middle" fill="#333">1044</text>
<text x="495.8" y="690.5" text-anchor="middle" fill="#333">50</text>
<text x="546.1" y="690.5" text-anchor="middle" fill="#333">204</text>
<text x="596.2" y="690.5" text-anchor="middle" fill="#333">1094</text>
<text x="646.2" y="690.5" text-anchor="middle" fill="#333">288</text>
<text x="696.35" y="690.5" text-anchor="middle" fill="#333">45</text>
<rect x="75.8" y="703.3" width="646.2" height="94.90000000000009" fill="none" stroke="#555" stroke-width="1.5"/>
<line x1="170.5" y1="722.2" x2="722" y2="722.2" stroke="#5a5a5a" stroke-width="1.3"/>
<line x1="75.8" y1="760.3" x2="722" y2="760.3" stroke="#858585" stroke-width="1.1"/>
<line x1="75.8" y1="779.4" x2="722" y2="779.4" stroke="#858585" stroke-width="1.1"/>
<line x1="75.8" y1="741.2" x2="722" y2="741.2" stroke="#555" stroke-width="1.2"/>
<line x1="170.5" y1="703.3" x2="170.5" y2="798.2" stroke="#4a4a4a" stroke-width="1.1"/>
<line x1="270.3" y1="722.2" x2="270.3" y2="798.2" stroke="#4a4a4a" stroke-width="1.1"/>
<line x1="370.6" y1="703.3" x2="370.6" y2="798.2" stroke="#4a4a4a" stroke-width="1.1"/>
<line x1="458.5" y1="722.2" x2="458.5" y2="798.2" stroke="#4a4a4a" stroke-width="1.1"/>
<line x1="546.7" y1="722.2" x2="546.7" y2="798.2" stroke="#4a4a4a" stroke-width="1.1"/>
<line x1="634.5" y1="722.2" x2="634.5" y2="798.2" stroke="#4a4a4a" stroke-width="1.1"/>
<text x="123.15" y="727" text-anchor="middle" font-weight="bold" fill="#262626">Модель</text>
<text x="270.55" y="717.3" text-anchor="middle" font-weight="bold" fill="#262626">Размер кронштейнов</text>
<text x="546.3" y="717.3" text-anchor="middle" font-weight="bold" fill="#262626">Размеры труб хладагента</text>
<text x="220.4" y="735.7" text-anchor="middle" font-weight="bold" fill="#262626">L, мм</text>
<text x="320.45000000000005" y="735.7" text-anchor="middle" font-weight="bold" fill="#262626">M, мм</text>
<text x="414.55" y="735.7" text-anchor="middle" font-weight="bold" fill="#262626">H1, мм</text>
<text x="502.6" y="735.7" text-anchor="middle" font-weight="bold" fill="#262626">H2, мм</text>
<text x="590.6" y="735.7" text-anchor="middle" font-weight="bold" fill="#262626">W1, мм</text>
<text x="678.25" y="735.7" text-anchor="middle" font-weight="bold" fill="#262626">W2, мм</text>
<text x="123.15" y="755.5" text-anchor="middle" fill="#333">LS-HE36DOA4</text>
<text x="220.4" y="755.5" text-anchor="middle" fill="#333">1140</text>
<text x="320.45000000000005" y="755.5" text-anchor="middle" fill="#333">298</text>
<text x="414.55" y="755.5" text-anchor="middle" fill="#333">80</text>
<text x="502.6" y="755.5" text-anchor="middle" fill="#333">150</text>
<text x="590.6" y="755.5" text-anchor="middle" fill="#333">130</text>
<text x="678.25" y="755.5" text-anchor="middle" fill="#333">155</text>
<text x="123.15" y="774.5999999999999" text-anchor="middle" fill="#333">LS-HE48DOA4</text>
<text x="220.4" y="774.5999999999999" text-anchor="middle" fill="#333">1240</text>
<text x="320.45000000000005" y="774.5999999999999" text-anchor="middle" fill="#333">697</text>
<text x="414.55" y="774.5999999999999" text-anchor="middle" fill="#333">80</text>
<text x="502.6" y="774.5999999999999" text-anchor="middle" fill="#333">150</text>
<text x="590.6" y="774.5999999999999" text-anchor="middle" fill="#333">185</text>
<text x="678.25" y="774.5999999999999" text-anchor="middle" fill="#333">210</text>
<text x="123.15" y="793.6999999999999" text-anchor="middle" fill="#333">LS-HE55DOA4</text>
<text x="220.4" y="793.6999999999999" text-anchor="middle" fill="#333">1240</text>
<text x="320.45000000000005" y="793.6999999999999" text-anchor="middle" fill="#333">697</text>
<text x="414.55" y="793.6999999999999" text-anchor="middle" fill="#333">80</text>
<text x="502.6" y="793.6999999999999" text-anchor="middle" fill="#333">150</text>
<text x="590.6" y="793.6999999999999" text-anchor="middle" fill="#333">185</text>
<text x="678.25" y="793.6999999999999" text-anchor="middle" fill="#333">210</text>
</svg>
</body></html>
